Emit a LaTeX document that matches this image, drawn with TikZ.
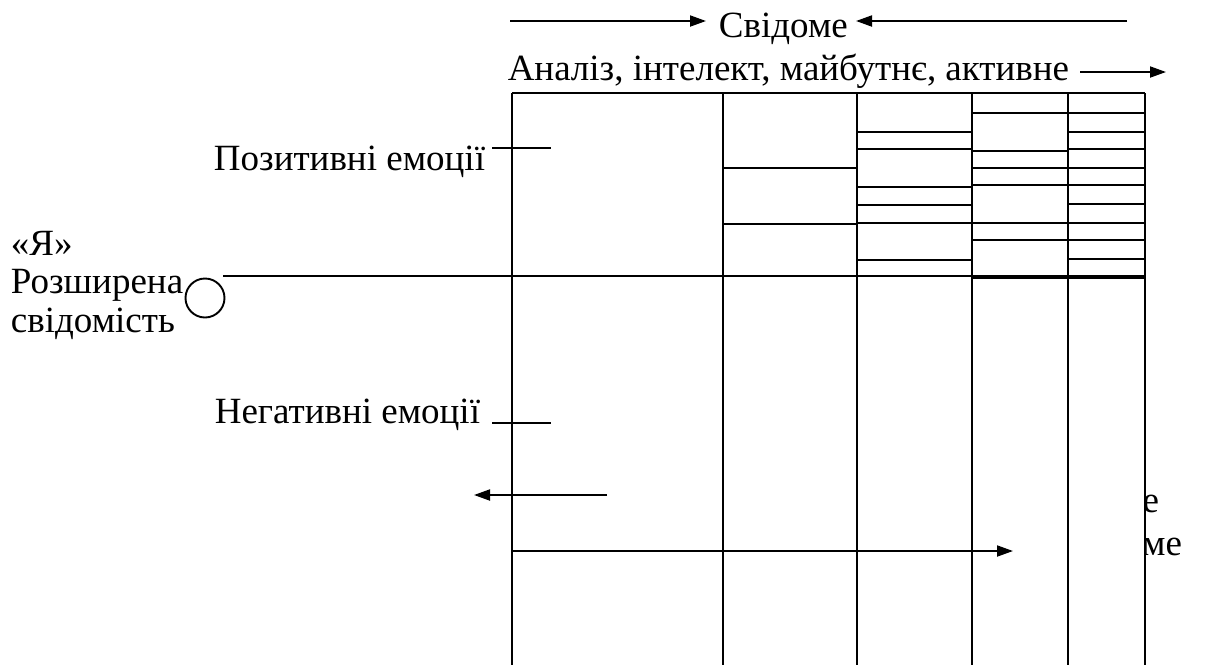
\documentclass[tikz,border=0pt]{standalone}
\usepackage{fontspec}
\setmainfont{Liberation Serif}
\usetikzlibrary{arrows.meta}
\begin{document}
\begin{tikzpicture}[x=0.5pt,y=-0.5pt,line width=0.95pt,
  lbl/.style={inner sep=0pt,font=\fontsize{18.5}{20}\selectfont},
  arr/.style={-{Triangle[length=8pt,width=5.5pt]}}]
\useasboundingbox (0,0) rectangle (1206,665);

% --- headings and direction arrows
\node[lbl,anchor=base west] (svid) at (718,37) {Свідоме};
\coordinate (a1s) at (510,21);
\coordinate (a1e) at (706,21);
\coordinate (a2s) at (1127,21);
\coordinate (a2e) at (856,21);
\draw[arr] (a1s) -- (a1e);
\draw[arr] (a2s) -- (a2e);

\node[lbl,anchor=base east] (anal) at (1070,80) {Аналіз, інтелект, майбутнє, активне};
\coordinate (a3s) at (1080,72);
\coordinate (a3e) at (1166,72);
\draw[arr] (a3s) -- (a3e);

% --- table grid
\foreach \x in {512,723,857,972,1068,1145}
  \draw (\x,93) -- (\x,665);
\draw (512,93) -- (1145,93);
\foreach \y in {168,224}
  \draw (723,\y) -- (857,\y);
\foreach \y in {132,149,187,205,223,260}
  \draw (857,\y) -- (972,\y);
\foreach \y in {113,151,168,185,223,240,278}
  \draw (972,\y) -- (1068,\y);
\foreach \y in {113,132,149,168,185,204,223,240,259,278}
  \draw (1068,\y) -- (1145,\y);

% --- the "I" and the axis line
\node[lbl,anchor=base west] (ya) at (10,255) {«Я»};
\node[lbl,anchor=base west] (rozsh) at (10,293) {Розширена};
\node[lbl,anchor=base west] (svidom) at (10,332) {свідомість};
\node[draw,circle,minimum size=19.5pt,inner sep=0pt] (ring) at (205,298) {};
\coordinate (axisL) at (223,276);
\coordinate (axisR) at (1145,276);
\draw (axisL) -- (axisR);

% --- emotions
\node[lbl,anchor=base east] (pos) at (486,170) {Позитивні емоції};
\coordinate (posW) at (492,148);
\coordinate (posE) at (551,148);
\draw (posW) -- (posE);
\node[lbl,anchor=base east] (neg) at (481,423) {Негативні емоції};
\coordinate (negW) at (492,423);
\coordinate (negE) at (551,423);
\draw (negW) -- (negE);

% --- lower arrows
\coordinate (l1s) at (607,495);
\coordinate (l1e) at (474,495);
\draw[arr] (l1s) -- (l1e);
\coordinate (l2s) at (512,551);
\coordinate (l2e) at (1013,551);
\draw[arr] (l2s) -- (l2e);

% --- captions cut by the last column
\begin{scope}
  \clip (1146,440) rectangle (1206,600);
  \node[lbl,anchor=base east] (capA) at (1160,512) {е};
  \node[lbl,anchor=base east] (capB) at (1183,555) {ме};
\end{scope}
\end{tikzpicture}
\end{document}
